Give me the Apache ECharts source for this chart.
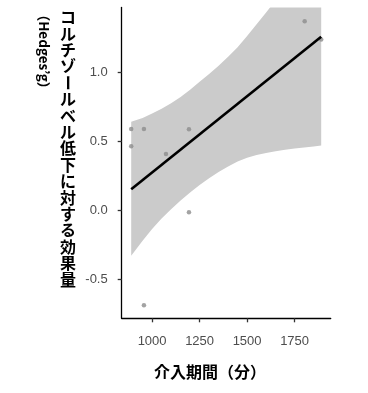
<!DOCTYPE html>
<html>
<head>
<meta charset="utf-8">
<script src="https://cdn.jsdelivr.net/npm/echarts@6/dist/echarts.min.js"></script>
<style>html,body{margin:0;padding:0;background:#fff;}#c{width:368px;height:393px;}</style>
</head>
<body>
<div id="c"></div>
<script>
// Observed studies: intervention duration (min) and effect size (Hedges' g)
var pointX = [890, 957, 890, 1073, 1194, 1803, 1890, 1194, 957];
var pointY = [0.588, 0.588, 0.463, 0.407, 0.586, 1.367, 1.236, -0.014, -0.687];
// Fitted regression line
var fitX = [890, 1890];
var fitY = [0.152, 1.255];
// Confidence band
var bandX = [890, 950, 1000, 1050, 1100, 1150, 1200, 1250, 1300, 1350, 1400, 1450, 1500, 1550, 1600, 1650, 1700, 1750, 1800, 1850, 1890];
var bandLow = [-0.33, -0.22, -0.135, -0.06, 0.008, 0.07, 0.128, 0.182, 0.232, 0.277, 0.317, 0.352, 0.38, 0.40, 0.415, 0.427, 0.437, 0.446, 0.454, 0.462, 0.468];
var bandHigh = [0.64, 0.668, 0.70, 0.735, 0.775, 0.82, 0.872, 0.93, 0.985, 1.045, 1.11, 1.18, 1.26, 1.345, 1.43, 1.52, 1.61, 1.70, 1.80, 1.90, 1.98];
// Ticks
var xTicks = [1000, 1250, 1500, 1750];
var yTicks = [-0.5, 0.0, 0.5, 1.0];
var xTitle = '介入期間（分）';
var yTitle = 'コルチゾールベル低下に対する効果量';
var yUnit = '（Hedges’g）';

var chart = echarts.init(document.getElementById('c'), null, {renderer: 'canvas'});

var pts = pointX.map(function (x, i) { return [x, pointY[i]]; });
var fit = fitX.map(function (x, i) { return [x, fitY[i]]; });
var band = bandX.map(function (x, i) { return [x, bandLow[i], bandHigh[i]]; });

var titleChars = yTitle.split('');
var dashIdx = titleChars.indexOf('ー');
var richLines = titleChars.map(function (ch) { return ch === 'ー' ? '{h|ー}' : ch; }).join('\n');
var lineH = 16.4, titleTop = 9, titleX = 68;

var labelFont = {color: '#4d4d4d', fontSize: 13, fontFamily: 'Liberation Sans, Arial, sans-serif'};

chart.setOption({
  animation: false,
  backgroundColor: '#ffffff',
  grid: {left: 121.7, right: 37.3, top: 7.5, bottom: 74.7, containLabel: false},
  xAxis: {
    type: 'value', min: 840, max: 1940,
    axisLine: {show: true, onZero: false, lineStyle: {color: '#000', width: 1.3}},
    axisTick: {show: true, length: 4, customValues: xTicks, lineStyle: {color: '#333', width: 1.3}},
    axisLabel: Object.assign({show: true, margin: 17, customValues: xTicks, formatter: function (v) { return String(Math.round(v)); }}, labelFont),
    splitLine: {show: false}
  },
  yAxis: {
    type: 'value', min: -0.782, max: 1.467,
    axisLine: {show: true, onZero: false, lineStyle: {color: '#000', width: 1.3}},
    axisTick: {show: true, length: 4, customValues: yTicks, lineStyle: {color: '#333', width: 1.3}},
    axisLabel: Object.assign({show: true, margin: 14, customValues: yTicks, formatter: function (v) { return v.toFixed(1); }}, labelFont),
    splitLine: {show: false}
  },
  series: [
    {
      type: 'custom',
      clip: true,
      silent: true,
      data: [0],
      renderItem: function (params, api) {
        var up = [], lo = [];
        band.forEach(function (b) {
          up.push(api.coord([b[0], b[2]]));
          lo.push(api.coord([b[0], b[1]]));
        });
        var poly = up.concat(lo.reverse());
        return {type: 'polygon', shape: {points: poly, smooth: 0}, style: {fill: '#cbcbcb', stroke: null}};
      },
      z: 1
    },
    {
      type: 'scatter',
      data: pts,
      symbol: 'circle',
      symbolSize: 4.5,
      itemStyle: {color: '#8c8c8c'},
      silent: true,
      z: 2
    },
    {
      type: 'line',
      data: fit,
      showSymbol: false,
      symbol: 'none',
      lineStyle: {color: '#000', width: 2.6},
      silent: true,
      z: 3
    }
  ],
  graphic: [
    {
      type: 'text',
      left: 154, top: 364,
      style: {text: xTitle, fontSize: 16, fontWeight: 'bold', fill: '#000', fontFamily: 'Noto Sans CJK JP'}
    },
    {
      type: 'text',
      x: titleX, y: titleTop,
      style: {
        text: richLines, fontSize: 16, fontWeight: 'bold', fill: '#000', fontFamily: 'Noto Sans CJK JP',
        align: 'center', verticalAlign: 'top', lineHeight: lineH,
        rich: {h: {fill: 'transparent', color: 'transparent', fontSize: 16, fontWeight: 'bold', lineHeight: lineH, fontFamily: 'Noto Sans CJK JP'}}
      }
    },
    {
      type: 'text',
      x: titleX, y: titleTop + (dashIdx + 0.5) * lineH,
      rotation: -Math.PI / 2,
      style: {text: 'ー', fontSize: 16, fontWeight: 'bold', fill: '#000', fontFamily: 'Noto Sans CJK JP', align: 'center', verticalAlign: 'middle'}
    },
    {
      type: 'text',
      x: 44, y: 51.5,
      rotation: -Math.PI / 2,
      style: {text: yUnit, fontSize: 13.5, fontWeight: 'bold', fill: '#000', fontFamily: 'Noto Sans CJK JP', align: 'center', verticalAlign: 'middle'}
    }
  ]
});
</script>
</body>
</html>
